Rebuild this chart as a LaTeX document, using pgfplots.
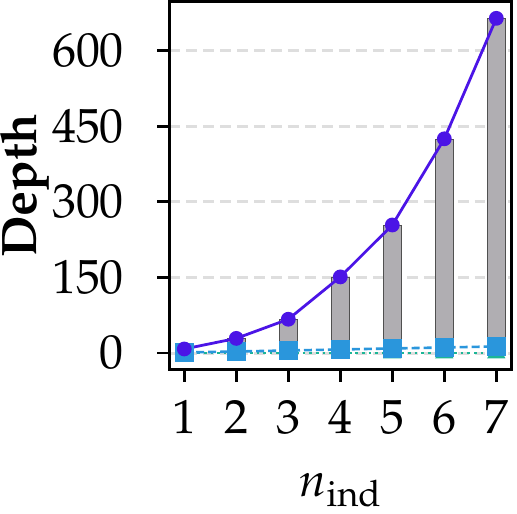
\documentclass[border={0pt 3pt 2pt 0pt}]{standalone}
\usepackage[T1]{fontenc}
\usepackage{mathpazo}
\usepackage{pgfplots}
\pgfplotsset{compat=1.18}

\definecolor{barfill}{RGB}{176,174,178}
\definecolor{baredge}{RGB}{80,80,80}
\definecolor{cpurple}{RGB}{75,20,230}
\definecolor{cblue}{RGB}{42,150,220}
\definecolor{cteal}{RGB}{28,182,150}
\definecolor{gridgray}{RGB}{222,222,222}

\begin{document}
\begin{tikzpicture}
\begin{axis}[
  scale only axis,
  width=171.5pt, height=184.5pt,
  xmin=0.71, xmax=7.29,
  ymin=-33.2, ymax=697.2,
  xtick={1,2,3,4,5,6,7},
  ytick={0,150,300,450,600},
  tick pos=left,
  tick align=outside,
  major tick length=6pt,
  tick style={line width=1.4pt, black},
  axis line style={line width=1.6pt},
  ymajorgrids,
  grid style={gridgray, line width=1.5pt, dash pattern=on 5.5pt off 3pt},
  ticklabel style={font=\fontsize{24}{28}\selectfont, inner sep=0pt},
  xticklabel style={anchor=base, yshift=-26pt},
  yticklabel style={anchor=east, xshift=-16.5pt},
  xlabel style={at={(axis description cs:0.5,0)}, anchor=base, yshift=-63.5pt,
    inner sep=0pt, font=\fontsize{24}{28}\selectfont},
  % rotated label: local +y points to the left
  ylabel style={at={(axis description cs:0,0.5)}, anchor=north,
    yshift=85pt, inner sep=0pt, font=\fontsize{25}{30}\selectfont},
  ylabel={\textbf{Depth}},
  xlabel={$n_{\mathrm{ind}}$},
]
% total depth per n_ind
\addplot[ybar, bar shift=0pt, bar width=0.35, fill=barfill, draw=baredge, line width=0.6pt]
  coordinates {(1,10) (2,28) (3,66) (4,150) (5,253) (6,424) (7,664)};
% flat component
\addplot[cteal, line width=1.3pt, dotted, mark=triangle*, mark size=4pt,
  mark options={solid}]
  coordinates {(1,0) (2,0) (3,0) (4,0) (5,0) (6,0) (7,0)};
% slowly growing component
\addplot[cblue, line width=1.3pt, dash pattern=on 4pt off 2pt, mark=square*, mark size=4.25pt,
  mark options={solid}]
  coordinates {(1,1) (2,3) (3,5) (4,7) (5,9) (6,11) (7,13)};
% full construction
\addplot[cpurple, line width=1.4pt, mark=*, mark size=3pt]
  coordinates {(1,8) (2,29) (3,67) (4,151) (5,254) (6,425) (7,664)};
\end{axis}
\end{tikzpicture}
\end{document}
